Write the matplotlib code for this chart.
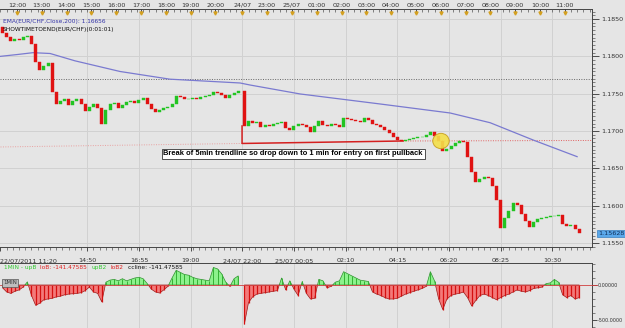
import matplotlib
matplotlib.use("Agg")
import matplotlib.pyplot as plt
import matplotlib.ticker as mticker
import matplotlib.transforms as mtrans
from matplotlib.patches import Rectangle, Ellipse
import numpy as np

# ------------------------------------------------------------------ data
# EUR/CHF 10-minute closes, Friday 22/07/2011 11:20 -> 21:00
fri_open_first = 1.18393
fri_close = [1.18313, 1.18259, 1.18205, 1.18232, 1.18219, 1.18259, 1.18272, 1.18165,
             1.17924, 1.17817, 1.17871, 1.17911, 1.17522, 1.17362, 1.17402, 1.17429,
             1.17348, 1.17402, 1.17429, 1.17362, 1.17268, 1.17321, 1.17362, 1.17308,
             1.17094, 1.17281, 1.17362, 1.17375, 1.17308, 1.17348, 1.17388, 1.17402,
             1.17375, 1.17415, 1.17442, 1.17362, 1.17295, 1.17254, 1.17281, 1.17308,
             1.17321, 1.17362, 1.17469, 1.17455, 1.17429, 1.17429, 1.17442, 1.17435,
             1.17449, 1.17469, 1.17482, 1.17522, 1.17509, 1.17482, 1.17442, 1.17482,
             1.17509, 1.17536]
# Sunday 24/07 22:00 -> Monday 25/07 11:30
sun_close = [1.17067, 1.17134, 1.17107, 1.17121, 1.17054, 1.17080, 1.17067, 1.17094,
             1.17107, 1.17121, 1.17040, 1.17013, 1.17067, 1.17094, 1.17080, 1.17054,
             1.16987, 1.17067, 1.17134, 1.17080, 1.17067, 1.17094, 1.17080, 1.17054,
             1.17174, 1.17161, 1.17147, 1.17134, 1.17121, 1.17174, 1.17147, 1.17094,
             1.17080, 1.17054, 1.17013, 1.16973, 1.16920, 1.16879, 1.16866, 1.16879,
             1.16893, 1.16906, 1.16920, 1.16926, 1.16946, 1.16987, 1.16933, 1.16866,
             1.16732, 1.16759, 1.16799, 1.16839, 1.16866, 1.16853, 1.16652, 1.16451,
             1.16317, 1.16357, 1.16384, 1.16371, 1.16263, 1.16076, 1.15701, 1.15835,
             1.15929, 1.16036, 1.16009, 1.15888, 1.15795, 1.15714, 1.15781, 1.15821,
             1.15835, 1.15848, 1.15855, 1.15862, 1.15875, 1.15754, 1.15728, 1.15741,
             1.15687, 1.15628]

# oscillator (cci-like) per bar
fri_osc = [-40, -100, -120, -90, -70, -30, 45, -150, -290, -260, -210, -200, -190, -170,
           -160, -140, -130, -125, -120, -110, -80, -30, -100, -120, -240, 40, 70, 80,
           60, 90, 60, 80, 100, 110, 90, 20, -60, -100, -115, -70, -20, 100, 210, 180,
           150, 140, 110, 90, 80, 70, 60, 250, 230, 160, 40, -20, 90, 130]
sun_osc = [-560, -250, -170, -130, -120, -110, -100, -90, -80, 100, -70, 60, -60, -150,
           50, -120, -200, -190, 80, 60, -40, -20, 40, 60, 190, 160, 130, 100, 70, 60,
           50, -100, -130, -150, -180, -200, -200, -190, -160, -130, -110, -90, -70, -50,
           -20, 190, 60, -200, -350, -200, -150, -130, -120, -100, -180, -300, -220, -150,
           -130, -150, -180, -210, -180, -150, -130, -100, -70, -90, -100, -80, -50, -40,
           -30, 20, 30, 80, 40, -140, -180, -150, -200, -180]

# EMA(200) readings (hours since Fri 11:20 on the session axis, value)
ema_hours = [0.0, 0.7, 1.31, 2.0, 3.0, 4.82, 6.83, 9.66, 10.06, 12.08, 15.30, 18.13,
             19.74, 21.47, 23.25]
ema_values = [1.18000, 1.18025, 1.18049, 1.18038, 1.17940, 1.17797, 1.17694, 1.17643,
              1.17616, 1.17496, 1.17362, 1.17241, 1.17111, 1.16880, 1.16656]

# annotations
resistance_level = 1.1770
trend_left = [(0.0, 1.16786), (9.74, 1.16833)]
trend_solid = [(9.74, 1.17067), (9.74, 1.16833), (16.23, 1.16866)]
trend_right = [(16.23, 1.16866), (23.9, 1.16873)]
entry_point = (17.76, 1.16866)
last_price = 1.15628
ema_last = 1.16656

top_labels = ['12:00', '13:00', '14:00', '15:00', '16:00', '17:00', '18:00', '19:00',
              '20:00', '24/07', '23:00', '25/07', '01:00', '02:00', '03:00', '04:00',
              '05:00', '06:00', '07:00', '08:00', '09:00', '10:00', '11:00']
bottom_labels = ['22/07/2011 11:20', '14:50', '16:55', '19:00', '24/07 22:00',
                 '25/07 00:05', '02:10', '04:15', '06:20', '08:25', '10:30']
price_ticks = [1.1550, 1.1600, 1.1650, 1.1700, 1.1750, 1.1800, 1.1850]
osc_ticks = [0, -500]
osc_tick_labels = ['0.00000', '-500.0000']

# ------------------------------------------------------------------ layout
W, H = 625, 328
BAR = 1 / 6.0          # bar length in hours (10 min)
SUN_START = 9.75       # Sunday 22:00 on the compressed session axis
top_label_hours = [0.6667 + k for k in range(9)] + [9.75, 10.75, 11.75] + \
                  [12.75 + k for k in range(11)]
bottom_label_hours = [0.0, 3.5, 5.5833, 7.6667, 9.75, 11.8333, 13.9167, 16.0,
                      18.0833, 20.1667, 22.25]
XLIM = (-0.02, 23.85)
BG = '#e5e5e5'
GRID = '#d1d1d1'
GREEN = '#22c422'
RED = '#e01212'
FONT = 'DejaVu Sans'
FS = 4.6

plt.rcParams['font.family'] = FONT


def rect(x0, y0, x1, y1):
    return [x0 / W, 1 - y1 / H, (x1 - x0) / W, (y1 - y0) / H]


fig = plt.figure(figsize=(W / 100, H / 100), dpi=100)
fig.patch.set_facecolor(BG)

# ------------------------------------------------------------------ main panel
ax = fig.add_axes(rect(0, 9, 592, 247))
ax.set_facecolor(BG)
ax.set_xlim(*XLIM)
ax.set_ylim(1.15446, 1.18634)

fri_x = [i * BAR + BAR / 2 for i in range(len(fri_close))]
sun_x = [SUN_START + j * BAR + BAR / 2 for j in range(len(sun_close))]
xs = fri_x + sun_x
closes = fri_close + sun_close
opens = [fri_open_first] + fri_close[:-1] + [fri_close[-1]] + sun_close[:-1]

# grid
for h in bottom_label_hours[1:]:
    ax.axvline(h, color=GRID, lw=0.7, zorder=0)
for p in price_ticks:
    ax.axhline(p, color=GRID, lw=0.7, zorder=0)

ax.axhline(resistance_level, color='#666666', lw=0.7, ls=(0, (1, 1.5)), zorder=1)
ax.plot(*zip(*trend_left), color='#e8a0a0', lw=0.7, ls=(0, (1, 1.5)), zorder=1)
ax.plot(*zip(*trend_right), color='#e06060', lw=0.7, ls=(0, (1, 1.5)), zorder=1)
ax.plot(*zip(*trend_solid), color='#d42020', lw=1.1, zorder=3)

ax.plot(ema_hours, ema_values, color='#7a7ad0', lw=0.9, zorder=2)

bw = 0.12
for x, o, c in zip(xs, opens, closes):
    col = GREEN if c >= o else RED
    lo, hi = min(o, c), max(o, c)
    ax.add_patch(Rectangle((x - bw / 2, lo), bw, max(hi - lo, 0.00005),
                           facecolor=col, edgecolor=col, lw=0.3, zorder=4))

ax.add_patch(Ellipse(entry_point, 0.66, 0.00205, facecolor='#f4e04a',
                     edgecolor='#c8a020', lw=0.7, alpha=0.9, zorder=5))

ax.text(11.8, 1.16692, 'Break of 5min trendline so drop down to 1 min for entry on first pullback',
        fontsize=5.4, fontweight='bold', family='Liberation Sans', color='black',
        ha='center', va='center', zorder=6,
        bbox=dict(boxstyle='square,pad=0.25', facecolor='white', edgecolor='#333333', lw=0.6))

# spines and axes
ax.spines['left'].set_visible(False)
for s in ['top', 'right', 'bottom']:
    ax.spines[s].set_color('#444444')
    ax.spines[s].set_linewidth(0.7)

ax.yaxis.tick_right()
ax.set_yticks(price_ticks)
ax.yaxis.set_major_formatter(mticker.FormatStrFormatter('%.4f'))
ax.yaxis.set_minor_locator(mticker.MultipleLocator(0.0005))
ax.tick_params(axis='y', which='major', length=5, width=0.6, pad=2, labelsize=FS,
               colors='#333333', direction='out')
ax.tick_params(axis='y', which='minor', length=2.5, width=0.5, colors='#555555')

ax.set_xticks(bottom_label_hours)
ax.set_xticklabels(bottom_labels)
ax.xaxis.set_minor_locator(mticker.MultipleLocator(0.25))
ax.tick_params(axis='x', which='major', length=3, width=0.6, pad=5, labelsize=FS,
               colors='#333333', direction='out')
ax.tick_params(axis='x', which='minor', length=2, width=0.5, colors='#555555')
ax.get_xticklabels()[0].set_horizontalalignment('left')

axt = ax.twiny()
axt.set_xlim(*XLIM)
axt.set_xticks(top_label_hours)
axt.set_xticklabels(top_labels)
axt.xaxis.set_minor_locator(mticker.MultipleLocator(0.25))
axt.tick_params(axis='x', which='major', length=3, width=0.6, pad=1, labelsize=FS,
                colors='#333333', direction='in')
axt.tick_params(axis='x', which='minor', length=2, width=0.5, colors='#555555', direction='in')
for s in ['left', 'right', 'bottom', 'top']:
    axt.spines[s].set_visible(False)
tr = mtrans.blended_transform_factory(axt.transData, axt.transAxes)
axt.plot(top_label_hours, [0.985] * len(top_label_hours), 'v', ms=2.2,
         color='#d4a020', transform=tr, clip_on=False, zorder=7)

fig.text(3 / W, 1 - 21 / H, 'EMA(EUR/CHF,Close,200): %.5f' % ema_last, color='#3636a8',
         fontsize=4.2, va='center', ha='left')
fig.text(3 / W, 1 - 29 / H, 'SHOWTIMETOEND(EUR/CHF)(0:01:01)', color='#111111',
         fontsize=4.2, va='center', ha='left')

# last price tag
yfrac = ax.transData.transform((0, last_price))[1] / H
fig.text(598 / W, yfrac, '%.5f' % last_price, fontsize=FS, color='#10305a',
         ha='left', va='center',
         bbox=dict(boxstyle='square,pad=0.2', facecolor='#5aa8ea', edgecolor='#3a80c0', lw=0.5))

# ------------------------------------------------------------------ oscillator panel
ax2 = fig.add_axes(rect(0, 263, 592, 328))
ax2.set_facecolor(BG)
ax2.set_xlim(*XLIM)
ax2.set_ylim(-614, 314)
for h in bottom_label_hours[1:]:
    ax2.axvline(h, color=GRID, lw=0.7, zorder=0)

osc = np.array(fri_osc + sun_osc, dtype=float)
xa = np.array(xs)
for seg in (slice(0, len(fri_osc)), slice(len(fri_osc), len(osc))):
    xx, vv = xa[seg], osc[seg]
    ax2.fill_between(xx, 0, vv, where=vv >= 0, interpolate=True, facecolor='#8cf28c',
                     edgecolor='#2f8f2f', lw=0.5, zorder=2)
    ax2.fill_between(xx, 0, vv, where=vv <= 0, interpolate=True, facecolor='#f37a7a',
                     edgecolor='#9a1a1a', lw=0.5, zorder=2)
pos = osc > 0
ax2.vlines(xa[pos], 0, osc[pos], color='#35b035', lw=0.7, zorder=3)
ax2.vlines(xa[~pos], 0, osc[~pos], color='#d41010', lw=0.9, zorder=3)
ax2.plot([XLIM[0], XLIM[1] + 0.22], [0, 0], color='#d04040', lw=0.6, clip_on=False, zorder=4)

for s in ['left', 'bottom']:
    ax2.spines[s].set_visible(False)
for s in ['top', 'right']:
    ax2.spines[s].set_color('#444444')
    ax2.spines[s].set_linewidth(0.7)
ax2.set_xticks([])
ax2.yaxis.tick_right()
ax2.set_yticks(osc_ticks)
ax2.set_yticklabels(osc_tick_labels)
ax2.yaxis.set_minor_locator(mticker.MultipleLocator(100))
ax2.tick_params(axis='y', which='major', length=3.5, width=0.6, pad=0.8, labelsize=3.5,
                colors='#333333')
ax2.tick_params(axis='y', which='minor', length=2.5, width=0.5, colors='#555555')

# legend line of oscillator
renderer = fig.canvas.get_renderer()
legend_parts = [('1MIN - upB', '#33cc33'), ('loB: -141.47585', '#e02020'),
                ('upB2', '#33cc33'), ('loB2', '#e02020'), ('ccline: -141.47585', '#111111')]
xp = 4.0
for s, c in legend_parts:
    t = fig.text(xp / W, 1 - 267.5 / H, s, color=c, fontsize=4.2, va='center', ha='left')
    bb = t.get_window_extent(renderer)
    xp = bb.x1 + 4

fig.text(3 / W, 1 - 283 / H, '1MIN', color='#333333', fontsize=4.0, va='center', ha='left',
         bbox=dict(boxstyle='square,pad=0.25', facecolor='#bdbdbd', edgecolor='#555555', lw=0.5))

fig.savefig('out.png', dpi=100, facecolor=BG)
